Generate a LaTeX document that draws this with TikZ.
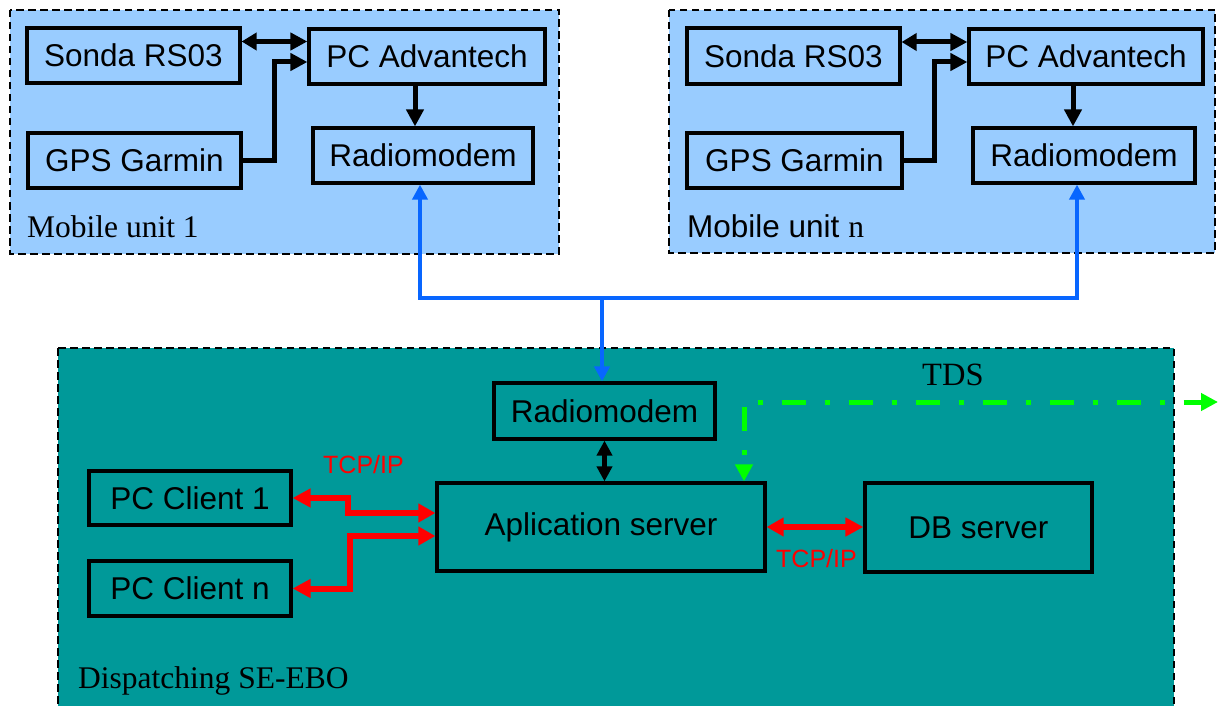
\documentclass[tikz,border=0pt]{standalone}
\usepackage{fontspec}
\setmainfont{Liberation Serif}
\setsansfont{Liberation Sans}
\usetikzlibrary{arrows.meta,calc}
\definecolor{mobfill}{HTML}{99CCFF}
\definecolor{disfill}{HTML}{009999}
\definecolor{radblue}{HTML}{0866FF}
\definecolor{tdsgreen}{HTML}{00FF00}
\definecolor{tcpred}{HTML}{FF0000}
\begin{document}
\begin{tikzpicture}[x=1pt,y=-1pt,
  unitframe/.style={draw=black, line width=2.5pt, dash pattern=on 7.5pt off 4.5pt},
  box/.style={draw=black, line width=3.2pt, inner sep=0pt,
    font=\fontsize{31.5}{38}\selectfont\sffamily},
  serlbl/.style={inner sep=0pt, anchor=base west, font=\fontsize{31.5}{38}\selectfont\rmfamily},
  tcplbl/.style={inner sep=0pt, anchor=base west, text=tcpred, font=\fontsize{25}{30}\selectfont\sffamily},
  blk/.style={draw=black, line width=5pt, -{Triangle[length=17pt,width=17pt]}},
  blkd/.style={draw=black, line width=5pt, {Triangle[length=15pt,width=17pt]}-{Triangle[length=17pt,width=17pt]}},
  blkv/.style={draw=black, line width=5pt, {Triangle[length=15pt,width=15pt]}-{Triangle[length=15pt,width=15pt]}},
  bluearr/.style={draw=radblue, line width=4pt, -{Triangle[length=15pt,width=15pt]}},
  redd/.style={draw=tcpred, line width=6pt, {Triangle[length=17pt,width=18pt]}-{Triangle[length=18pt,width=18pt]}},
  grn/.style={draw=tdsgreen, line width=5pt, dash pattern=on 24pt off 19pt on 5pt off 19pt, dash phase=33pt,
    {Triangle[length=17pt,width=17pt]}-{Triangle[length=17pt,width=17pt]}}
]
\useasboundingbox (0,0) rectangle (1219,706);
\fill[white] (0,0) rectangle (1219,706);
\clip (0,0) rectangle (1219,706);

% containers
\fill[mobfill] (10,10) rectangle (559,254);
\draw[unitframe] (10,10) rectangle (559,254);
\fill[mobfill] (669,10) rectangle (1215,253);
\draw[unitframe] (669,10) rectangle (1215,253);
\fill[disfill] (58,348) rectangle (1174,730);
\draw[unitframe] (58,348) rectangle (1174,730);

% mobile unit 1
\node[box, minimum width=213pt, minimum height=55pt] (s1) at (133.5,55.5) {Sonda RS03};
\node[box, minimum width=236pt, minimum height=55pt] (pc1) at (427,56.5) {PC Advantech};
\node[box, minimum width=213pt, minimum height=55pt] (g1) at (134.5,160.5) {GPS Garmin};
\node[box, minimum width=220pt, minimum height=55pt] (r1) at (423,155.5) {Radiomodem};
\node[serlbl] (lab1) at (27,237) {Mobile unit 1};

% mobile unit n
\node[box, minimum width=213pt, minimum height=56pt] (s2) at (793.5,56) {Sonda RS03};
\node[box, minimum width=234pt, minimum height=55pt] (pc2) at (1086,56.5) {PC Advantech};
\node[box, minimum width=215pt, minimum height=55pt] (g2) at (794.5,160.5) {GPS Garmin};
\node[box, minimum width=222pt, minimum height=55pt] (r2) at (1084,155.5) {Radiomodem};
\node[serlbl] (labn) at (687,237) {\sffamily Mobile unit \rmfamily n};

% dispatching
\node[box, minimum width=221pt, minimum height=56pt] (rd) at (604.5,411) {Radiomodem};
\node[box, minimum width=328pt, minimum height=88pt] (app) at (601,527) {Aplication server};
\node[box, minimum width=227pt, minimum height=89pt] (db) at (978.5,527.5) {DB server};
\node[box, minimum width=202pt, minimum height=54pt] (c1) at (190,498) {PC Client 1};
\node[box, minimum width=202pt, minimum height=55pt] (cn) at (190,588.5) {PC Client n};
\node[serlbl] (labd) at (78,688) {Dispatching SE-EBO};
\node[serlbl, font=\fontsize{32.5}{38}\selectfont\rmfamily] (tds) at (922,385) {TDS};
\node[tcplbl] (tcp1) at (323,473) {TCP/IP};
\node[tcplbl] (tcp2) at (776,567) {TCP/IP};

% connectors mobile unit 1
\draw[blkd] ([yshift=14pt]s1.east) -- ([yshift=14pt]s1.east -| pc1.west);
\draw[blk] (g1.east) -- ++(32,0) |- ([yshift=-5.5pt]pc1.west);
\draw[blk] ([xshift=-12pt]pc1.south) -- ([xshift=-12pt]pc1.south |- r1.north);

% connectors mobile unit n
\draw[blkd] ([yshift=14pt]s2.east) -- ([yshift=14pt]s2.east -| pc2.west);
\draw[blk] (g2.east) -- ++(31,0) |- ([yshift=-5.5pt]pc2.west);
\draw[blk] ([xshift=-13pt]pc2.south) -- ([xshift=-13pt]pc2.south |- r2.north);

% radio links
\coordinate (hub) at (602,298);
\draw[bluearr] (hub) -| ([xshift=-3pt]r1.south);
\draw[bluearr] (hub) -| ([xshift=-7pt]r2.south);
\draw[bluearr] (hub) -- (hub |- rd.north);

% dispatching connectors
\draw[blkv] (rd.south) -- (rd.south |- app.north);
\draw[redd] ([yshift=14pt]app.west) -- ++(-87,0) |- (c1.east);
\draw[redd] ([yshift=-9pt]app.west) -- ++(-85,0) |- (cn.east);
\draw[redd] (app.east) -- (app.east -| db.west);
\coordinate (tdsend) at (1218,402);
\draw[grn] ([xshift=143pt]app.north) |- (tdsend);
\end{tikzpicture}
\end{document}
